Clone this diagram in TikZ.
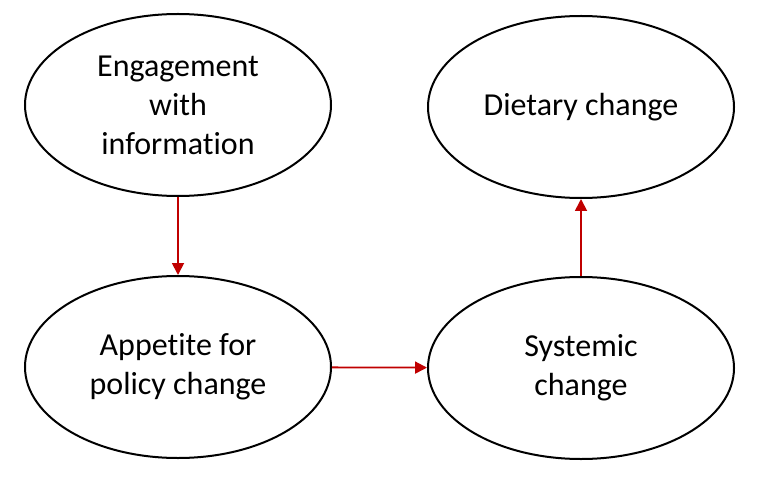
\documentclass[tikz,border=0pt]{standalone}
\usepackage{fontspec}
\setmainfont[Ligatures=NoCommon]{Carlito}
\usetikzlibrary{arrows.meta,shapes.geometric}
\begin{document}
\begin{tikzpicture}[x=1pt,y=-1pt,
  el/.style={draw=black,line width=2pt,ellipse,minimum width=306pt,minimum height=182pt,align=center,font=\fontsize{32}{39}\selectfont,inner sep=0pt},
  arr/.style={draw={rgb,255:red,192;green,0;blue,0},line width=1.8pt,-{Triangle[length=12pt,width=12pt]}}]
\useasboundingbox (0,0) rectangle (759,478);
\node[el] (eng) at (178,105) {Engagement\\with\\information};
\node[el] (diet) at (581,107) {Dietary change};
\node[el] (app) at (178,367) {Appetite for\\policy change};
\node[el] (sys) at (581,368) {Systemic\\change};
\draw[arr] (eng) -- (app);
\draw[arr] (app) -- (sys);
\draw[arr] (sys) -- (diet);
\end{tikzpicture}
\end{document}
